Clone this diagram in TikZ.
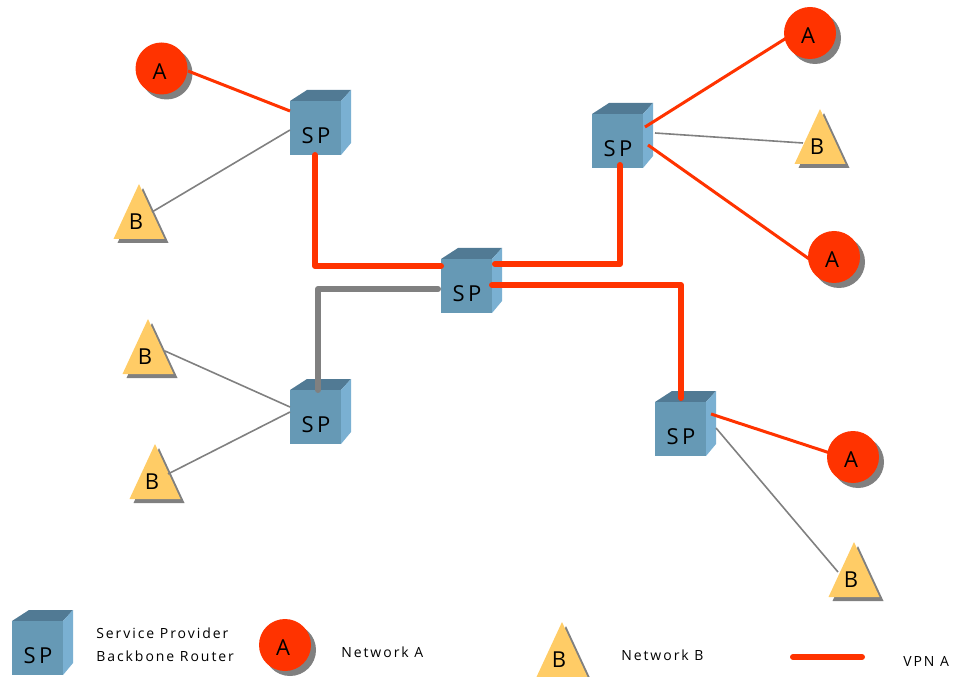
\documentclass[tikz,border=0pt]{standalone}
\usepackage{fontspec}
\newfontfamily\lblfont{Open Sans}[LetterSpace=0]
\newfontfamily\spfont{Open Sans}[LetterSpace=16]
\newfontfamily\legfont{Open Sans}[LetterSpace=14]
\definecolor{cfront}{HTML}{6699B5}
\definecolor{ctop}{HTML}{517A94}
\definecolor{cside}{HTML}{7AB0D2}
\definecolor{netred}{HTML}{FF3300}
\definecolor{netyel}{HTML}{FFCC66}
\definecolor{shgray}{HTML}{808080}
\tikzset{
  cubebody/.style={fill=cfront,draw=none,inner sep=0pt,minimum width=38.25pt,minimum height=40pt,anchor=north west},
  cubetext/.style={font=\fontsize{16.5}{18}\selectfont\spfont,text=black,inner sep=0pt},
  nettext/.style={font=\fontsize{16.5}{18}\selectfont\lblfont,text=black,inner sep=0pt},
  disc/.style={circle,fill=netred,draw=none,inner sep=0pt,minimum size=39pt},
  discshadow/.style={circle,fill=shgray,draw=none,inner sep=0pt,minimum size=39pt},
  legtext/.style={font=\fontsize{10.5}{15}\selectfont\legfont,text=black,inner sep=0pt,anchor=west,align=left},
  vpnthin/.style={draw=netred,line width=2.25pt},
  vpnthick/.style={draw=netred,line width=4.5pt,line cap=round,line join=round},
  backthin/.style={draw=shgray,line width=1.2pt},
  backthick/.style={draw=shgray,line width=4.5pt,line cap=round,line join=round},
}
\newcommand{\spcube}[3]{%
  \begin{scope}[shift={(#2,#3)}]
    \fill[ctop] (0,0) -- (17,-11) -- (61,-11) -- (51,0) -- cycle;
    \fill[cside] (51,0) -- (61,-11) -- (61,42) -- (51,54) -- cycle;
    \node[cubebody] (#1) at (0,0) {};
    \node[cubetext] (#1t) at (26,35) {SP};
  \end{scope}}
\newcommand{\netA}[3]{%
  \node[discshadow] (#1s) at (#2+5,#3+5) {};
  \node[disc] (#1) at (#2,#3) {};
  \node[nettext] (#1t) at (#2-2,#3+3) {A};}
\newcommand{\netB}[3]{%
  \begin{scope}[shift={(#2,#3)}]
    \fill[shgray] (4,4) -- (-21.5,59) -- (29.5,59) -- cycle;
    \fill[netyel] (0,0) -- (-25.5,55) -- (25.5,55) -- cycle;
    \node[nettext] (#1) at (-3,38) {B};
  \end{scope}}
\begin{document}
\begin{tikzpicture}[x=0.75pt,y=-0.75pt]
\useasboundingbox (0,0) rectangle (953,677);
% shapes
\spcube{spa}{290}{101}
\spcube{spb}{592}{114}
\spcube{spc}{441}{259}
\spcube{spd}{290}{390}
\spcube{spe}{655}{402}
\spcube{spl}{12}{621}
\netA{a1}{161.5}{68.5}
\netA{a2}{810}{33}
\netA{a3}{834}{257}
\netA{a4}{853}{457}
\netA{al}{285}{645}
\netB{b1}{139}{184}
\netB{b2}{820}{109}
\netB{b3}{148}{319}
\netB{b4}{155}{444}
\netB{b5}{854}{542}
\netB{bl}{562}{622}
% connector ports
\coordinate (p1) at (188,71);   \coordinate (q1) at (290,111);
\coordinate (p2) at (152,212);  \coordinate (q2) at (290,130);
\coordinate (p3) at (315,155);  \coordinate (m3) at (315,266); \coordinate (q3) at (441,266);
\coordinate (p4) at (438,289);  \coordinate (m4) at (318,289); \coordinate (q4) at (318,390);
\coordinate (p5) at (495,264);  \coordinate (m5) at (620,264); \coordinate (q5) at (620,165);
\coordinate (p6) at (492,285);  \coordinate (m6) at (681,285); \coordinate (q6) at (681,398);
\coordinate (p7) at (645,127);  \coordinate (q7) at (788,37);
\coordinate (p8) at (655,133);  \coordinate (q8) at (803,143);
\coordinate (p9) at (648,145);  \coordinate (q9) at (812,261);
\coordinate (p10) at (165,351); \coordinate (q10) at (290,407);
\coordinate (p11) at (168,474); \coordinate (q11) at (290,412);
\coordinate (p12) at (711,414); \coordinate (q12) at (830,453);
\coordinate (p13) at (716,428); \coordinate (q13) at (838,572);
\coordinate (p14) at (793,657); \coordinate (q14) at (862,657);
% connectors
\draw[vpnthin] (p1) -- (q1);
\draw[backthin] (p2) -- (q2);
\draw[vpnthick] (p3) -- (m3) -- (q3);
\draw[backthick] (p4) -- (m4) -- (q4);
\draw[vpnthick] (p5) -- (m5) -- (q5);
\draw[vpnthick] (p6) -- (m6) -- (q6);
\draw[vpnthin] (p7) -- (q7);
\draw[backthin] (p8) -- (q8);
\draw[vpnthin] (p9) -- (q9);
\draw[backthin] (p10) -- (q10);
\draw[backthin] (p11) -- (q11);
\draw[vpnthin] (p12) -- (q12);
\draw[backthin] (p13) -- (q13);
\draw[vpnthick] (p14) -- (q14);
% legend
\node[legtext] (t1) at (96,633) {Service Provider};
\node[legtext] (t2) at (96,656) {Backbone Router};
\node[legtext] (t3) at (341,652) {Network A};
\node[legtext] (t4) at (621,655) {Network B};
\node[legtext] (t5) at (903,661) {VPN A};
\end{tikzpicture}
\end{document}
